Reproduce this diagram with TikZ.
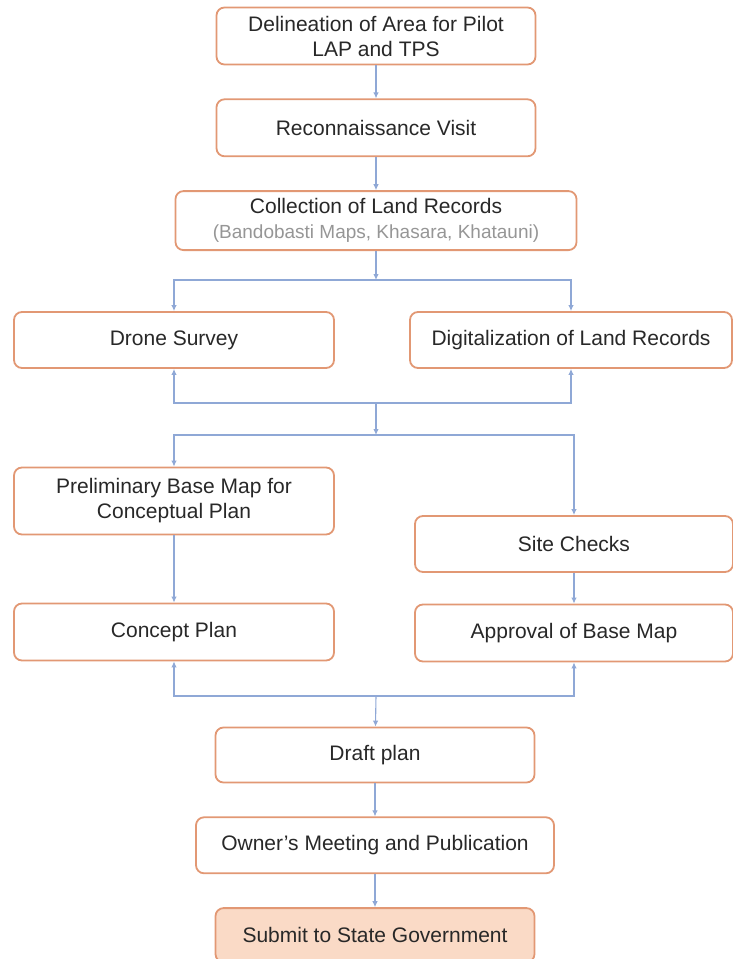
\documentclass[tikz,border=0pt]{standalone}
\usepackage{fontspec}
\setmainfont{Liberation Sans}
\usepackage{tikz}
\usetikzlibrary{shapes, arrows.meta, positioning}
\definecolor{boxline}{RGB}{226,152,116}
\definecolor{arrowblue}{RGB}{143,168,214}
\definecolor{textgray}{RGB}{40,40,40}
\definecolor{subgray}{RGB}{150,150,150}
\definecolor{peach}{RGB}{250,218,198}
\tikzstyle{block} = [rectangle, draw=boxline, line width=1.8pt, fill=white, 
text=textgray, align=center, rounded corners=8pt, minimum height=57pt, minimum width=319pt, inner sep=0pt, font=\fontsize{21}{25}\selectfont]
\tikzstyle{blockf} = [block, fill=peach]
\tikzstyle{line} = [draw=arrowblue, line width=1.1pt, -{Latex[length=6pt, width=5.5pt]}]

\begin{document}
\begin{tikzpicture}[x=1pt, y=1pt]
	\useasboundingbox (0,0) rectangle (733,-959);
	
	% Place nodes
	\node [block] (Delineation) at (376,-36) {Delineation of Area for Pilot\\LAP and TPS};
	\node [block, below=33pt of Delineation] (Reconnaissance) {Reconnaissance Visit};
	\node [block, below=33pt of Reconnaissance, minimum width=401pt, minimum height=59pt] (Collection)
		{Collection of Land Records\\{\color{subgray}\fontsize{19}{23}\selectfont(Bandobasti Maps, Khasara, Khatauni)}};
	\node [block, minimum width=320pt, minimum height=56pt] (Drone Survey) at (174,-340) {Drone Survey};
	\node [block, minimum width=322pt, minimum height=56pt] (Digitalization) at (571,-340) {Digitalization of Land Records};
	\node [block, minimum width=320pt, minimum height=67pt] (Preliminary) at (174,-501) {Preliminary Base Map for\\Conceptual Plan};
	\node [block, minimum width=318pt, minimum height=56pt] (Site Checks) at (574,-544) {Site Checks};
	\node [block, minimum width=320pt] (Concept Plan) at (174,-632) {Concept Plan};
	\node [block, minimum width=318pt] (Approval) at (574,-633) {Approval of Base Map};
	\node [block, minimum height=55pt] (Draft plan) at (375,-755) {Draft plan};
	\node [block, below=33pt of Draft plan, minimum width=358pt, minimum height=56pt] (Meeting) {Owner's Meeting and Publication};
	\node [blockf, below=33pt of Meeting, minimum height=54pt] (Submit) {Submit to State Government};
	
	% Junctions
	\coordinate (split1) at (376,-280);
	\coordinate (merge1) at (376,-403);
	\coordinate (split2) at (376,-435);
	\coordinate (merge2) at (376,-696);
	
	%Draw edges
	\path [line] (Delineation)    -- (Reconnaissance);
	\path [line] (Reconnaissance) -- (Collection);
	\path [line] (Collection)     -- (split1);
	\path [line] (split1)         -| (Drone Survey);
	\path [line] (split1)         -| (Digitalization);
	\path [line] (merge1)         -| (Drone Survey);
	\path [line] (merge1)         -| (Digitalization);
	\path [line] (merge1)         -- (split2);
	\path [line] (split2)         -| (Preliminary);
	\path [line] (split2)         -| (Site Checks);
	\path [line] (Preliminary)    -- (Concept Plan);
	\path [line] (Site Checks)    -- (Approval);
	\path [line] (merge2)         -| (Concept Plan);
	\path [line] (merge2)         -| (Approval);
	\path [line] (merge2)         -- (Draft plan);
	\path [line] (Draft plan)     -- (Meeting);
	\path [line] (Meeting)        -- (Submit);
	
\end{tikzpicture}
\end{document}
